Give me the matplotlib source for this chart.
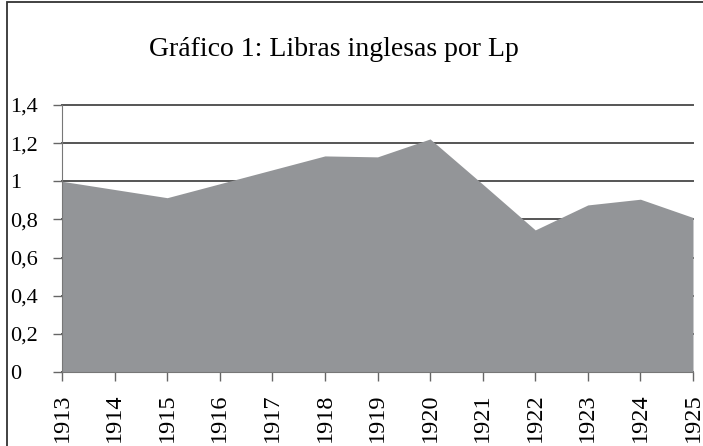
import matplotlib.pyplot as plt
from matplotlib.patches import Rectangle

anos = [1913, 1914, 1915, 1916, 1917, 1918, 1919, 1920, 1921, 1922, 1923, 1924, 1925]
libras = [1.0, 0.957, 0.914, 0.987, 1.06, 1.133, 1.128, 1.222, 0.985, 0.745, 0.876, 0.906, 0.81]
yticks = [0, 0.2, 0.4, 0.6, 0.8, 1.0, 1.2, 1.4]
ylabels = ['0', '0,2', '0,4', '0,6', '0,8', '1', '1,2', '1,4']

plt.rcParams['font.family'] = ['Liberation Serif', 'DejaVu Serif']

fig = plt.figure(figsize=(7.03, 4.46), dpi=100)
ax = fig.add_axes([62/703, 1-372/446, (693-62)/703, (372-105)/446])

# borda da figura (sem lado direito)
fig.patches.append(Rectangle((7/703, -0.05), 1.2, 1.05 - 2/446, transform=fig.transFigure,
                             fill=False, edgecolor='#333333', linewidth=1.3, clip_on=False))

ax.fill_between(anos, libras, 0, color='#939598', linewidth=0, zorder=2)

ax.set_xlim(1913, 1925)
ax.set_ylim(0, 1.4)
ax.set_xticks(anos)
ax.set_xticklabels([str(a) for a in anos], rotation=90, fontsize=17.5)
ax.set_yticks(yticks)
ax.set_yticklabels(ylabels, fontsize=16)
for lab in ax.get_yticklabels():
    lab.set_horizontalalignment('left')

ax.yaxis.grid(True, color='#555555', linewidth=1.4, zorder=1)
for gl in ax.get_ygridlines():
    gl.set_clip_on(False)
ax.set_axisbelow(True)
ax.tick_params(axis='y', length=6.5, width=1, color='#666666', pad=31)
ax.tick_params(axis='x', length=6.5, width=1, color='#666666', pad=9)

for s in ['top', 'right']:
    ax.spines[s].set_visible(False)
ax.spines['left'].set_color('#777777')
ax.spines['bottom'].set_color('#777777')
ax.spines['left'].set_zorder(3)

fig.text(334/703, 1-50/446, 'Gráfico 1: Libras inglesas por Lp', ha='center', va='center', fontsize=20)

fig.savefig('out.png', dpi=100)
